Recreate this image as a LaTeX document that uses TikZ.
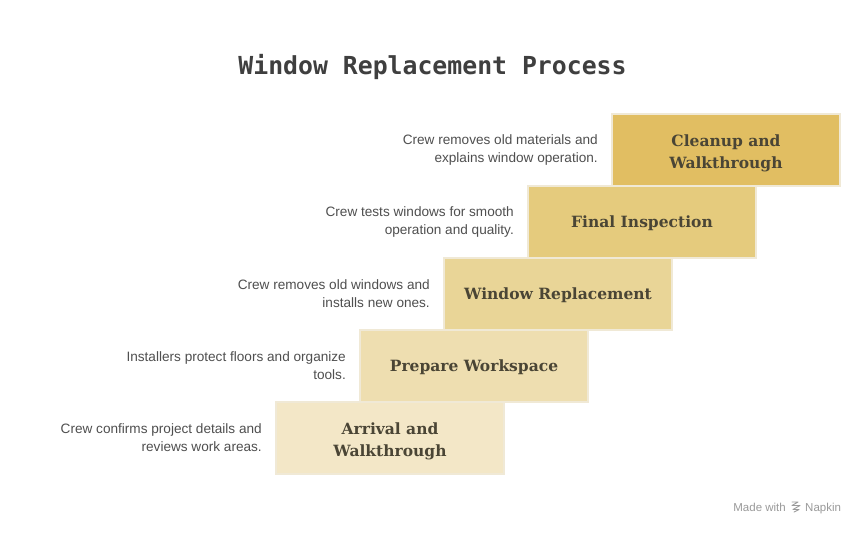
\documentclass[tikz,border=0pt]{standalone}
\usepackage{fontspec}
\setmainfont{Liberation Sans}
\newfontfamily\titlefont{DejaVu Sans Mono}
\newfontfamily\boxfont{DejaVu Serif}
\newfontfamily\descfont{Liberation Sans}
\definecolor{bgc}{HTML}{FFFFFF}
\definecolor{boxA}{HTML}{F3E7C7}
\definecolor{boxB}{HTML}{EEDEB0}
\definecolor{boxC}{HTML}{E9D597}
\definecolor{boxD}{HTML}{E5CB7D}
\definecolor{boxE}{HTML}{E1BE62}
\definecolor{edgec}{HTML}{F0E9D6}
\definecolor{labelc}{HTML}{4A4535}
\definecolor{descc}{HTML}{4F4F4F}
\definecolor{titlec}{HTML}{3F3F3F}
\definecolor{markc}{HTML}{9A9A9A}
\tikzset{
  stepbox/.style={draw=edgec, line width=1.5pt, minimum width=228pt, minimum height=72pt, inner sep=0pt},
  steplabel/.style={inner sep=0pt, text=labelc, font=\boxfont\bfseries\fontsize{15.5}{22}\selectfont, align=center},
  desc/.style={anchor=east, text=descc, font=\descfont\fontsize{13.6}{18}\selectfont, align=right, inner sep=0pt},
  mark text/.style={text=markc, font=\fontsize{11.5}{13}\selectfont, inner sep=0pt},
}
\begin{document}
\begin{tikzpicture}[x=1pt,y=-1pt]
\useasboundingbox[fill=bgc] (0,0) rectangle (865,535);
\node[text=titlec, font=\titlefont\bfseries\fontsize{24.8}{28}\selectfont] (title) at (432.5,66.5) {Window Replacement Process};

\node[stepbox, fill=boxA] (s1) at (390,438) {};
\node[stepbox, fill=boxB] (s2) at (474,366) {};
\node[stepbox, fill=boxC] (s3) at (558,294) {};
\node[stepbox, fill=boxD] (s4) at (642,222) {};
\node[stepbox, fill=boxE] (s5) at (726,150) {};

\node[steplabel] (l1) at ([yshift=-3pt]s1.center) {Arrival and\\Walkthrough};
\node[steplabel] (l2) at ([yshift=-1.5pt]s2.center) {Prepare Workspace};
\node[steplabel] (l3) at ([yshift=-1.5pt]s3.center) {Window Replacement};
\node[steplabel] (l4) at ([yshift=-1.5pt]s4.center) {Final Inspection};
\node[steplabel] (l5) at ([yshift=-3pt]s5.center) {Cleanup and\\Walkthrough};

\node[desc] (d1) at (262,437.5) {Crew confirms project details and\\reviews work areas.};
\node[desc] (d2) at (346,365.5) {Installers protect floors and organize\\tools.};
\node[desc] (d3) at (430,293.5) {Crew removes old windows and\\installs new ones.};
\node[desc] (d4) at (514,221.5) {Crew tests windows for smooth\\operation and quality.};
\node[desc] (d5) at (598,149.5) {Crew removes old materials and\\explains window operation.};

\node[mark text, anchor=base east] (mk1) at (786,511) {Made with};
\node[mark text, anchor=base west] (mk2) at (805,511) {Napkin};
\draw[markc, line width=0.9pt, line cap=round, line join=round] (792,502) -- (798,502) -- (792,505.5) -- (800,505.5) -- (793,509.5) -- (799,509.5) -- (794,512);
\end{tikzpicture}
\end{document}
